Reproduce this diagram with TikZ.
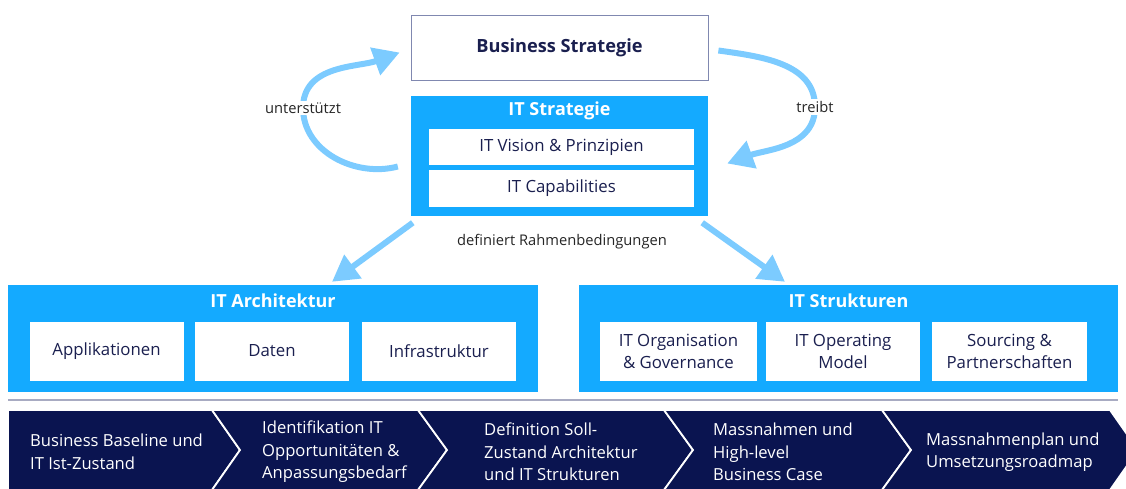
\documentclass[tikz,border=0pt]{standalone}
\usepackage{fontspec}
\setmainfont{Open Sans}
\usetikzlibrary{arrows.meta}

\definecolor{itblue}{HTML}{14AAFF}
\definecolor{arrowblue}{HTML}{7CCBFF}
\definecolor{navyband}{HTML}{0A1450}
\definecolor{navytext}{HTML}{1A1F4F}
\definecolor{frame}{HTML}{8088B0}
\definecolor{rulegrey}{HTML}{A8ABC2}

\tikzset{
    outerbox/.style={fill=itblue, inner sep=0pt},
    innerbox/.style={fill=white, text=navytext, inner sep=0pt, align=center,
        font=\fontsize{16.8}{22}\selectfont},
    boxtitle/.style={text=white, inner sep=0pt, font=\fontsize{18}{21}\selectfont\bfseries},
    flowarrow/.style={draw=arrowblue, line width=6pt, -{Triangle[length=26pt,width=28pt]}},
    arclabel/.style={fill=white, text=black!85, inner sep=2pt, font=\fontsize{14.7}{17}\selectfont},
    chevron/.style={fill=navyband, draw=white, line width=1.8pt},
    steptext/.style={text=white, anchor=west, align=left, inner sep=0pt,
        font=\fontsize{16.6}{22.5}\selectfont}
}

\begin{document}
\begin{tikzpicture}[x=1pt,y=-1pt]
    \clip (0,0) rectangle (1126,488);

    % Strategie oben
    \node[draw=frame, line width=0.8pt, minimum width=297, minimum height=65, inner sep=0pt,
          text=navytext, font=\fontsize{18.2}{21}\selectfont\bfseries] (bs) at (559.5,47.5) {Business Strategie};
    \node[outerbox, minimum width=297, minimum height=120] (its) at (559.5,155.5) {};
    \node[boxtitle] (itstitle) at (559.5,111) {IT Strategie};
    \node[innerbox, minimum width=265, minimum height=36] (vision) at (561.5,147) {IT Vision \& Prinzipien};
    \node[innerbox, minimum width=265, minimum height=37] (capab) at (561.5,188) {IT Capabilities};

    \path [flowarrow] ([shift={(-13,11)}]its.west) to[out=195,in=270] (303,108)
        node[arclabel] (lsupp) {unterstützt} to[out=90,in=200] ([shift={(-11,5)}]bs.west);
    \path [flowarrow] ([shift={(10,3)}]bs.east) to[out=-8,in=90] (815,107)
        node[arclabel] (ldrive) {treibt} to[out=270,in=20] ([shift={(19,8)}]its.east);

    \node[arclabel] (lframe) at (562,242) {definiert Rahmenbedingungen};

    % Architektur und Strukturen
    \node[outerbox, minimum width=530, minimum height=107] (arch) at (273,338.5) {};
    \node[boxtitle] (archtitle) at (273,301) {IT Architektur};
    \node[innerbox, minimum width=154, minimum height=59] (appl) at (106.5,351) {Applikationen};
    \node[innerbox, minimum width=154, minimum height=59] (daten) at (272,351) {Daten};
    \node[innerbox, minimum width=154, minimum height=59] (infra) at (439,351) {Infrastruktur};

    \node[outerbox, minimum width=539, minimum height=107] (struk) at (848.5,338.5) {};
    \node[boxtitle] (struktitle) at (848.5,301) {IT Strukturen};
    \node[innerbox, minimum width=157, minimum height=59] (orga) at (678.5,351) {IT Organisation\\\& Governance};
    \node[innerbox, minimum width=154, minimum height=59] (opmod) at (843,351) {IT Operating\\Model};
    \node[innerbox, minimum width=155, minimum height=59] (sourc) at (1009.5,351) {Sourcing \&\\Partnerschaften};

    \path [flowarrow] ([shift={(2,7)}]its.south west) -- ([shift={(59,-3)}]arch.north);
    \path [flowarrow] ([shift={(-6,7)}]its.south east) -- ([shift={(-63.5,-3)}]struk.north);

    \draw[rulegrey, line width=1.2pt] (8,400) -- (1118,400);

    % Vorgehen in fuenf Schritten
    \path[chevron] (8,410) -- (212,410) -- (240,450) -- (212,490) -- (8,490) -- cycle;
    \path[chevron] (212,410) -- (418,410) -- (447,450) -- (418,490) -- (212,490) -- (240,450) -- cycle;
    \path[chevron] (418,410) -- (664,410) -- (693,450) -- (664,490) -- (418,490) -- (447,450) -- cycle;
    \path[chevron] (664,410) -- (882,410) -- (911,450) -- (882,490) -- (664,490) -- (693,450) -- cycle;
    \path[chevron] (882,410) -- (1110,410) -- (1138,450) -- (1110,490) -- (882,490) -- (911,450) -- cycle;

    \node[steptext] (s1) at (30,452) {Business Baseline und\\IT Ist-Zustand};
    \node[steptext] (s2) at (262,452) {Identifikation IT\\Opportunitäten \&\\Anpassungsbedarf};
    \node[steptext] (s3) at (484,452) {Definition Soll-\\Zustand Architektur\\und IT Strukturen};
    \node[steptext] (s4) at (713,452) {Massnahmen und\\High-level\\Business Case};
    \node[steptext] (s5) at (926,452) {Massnahmenplan und\\Umsetzungsroadmap};
\end{tikzpicture}
\end{document}
